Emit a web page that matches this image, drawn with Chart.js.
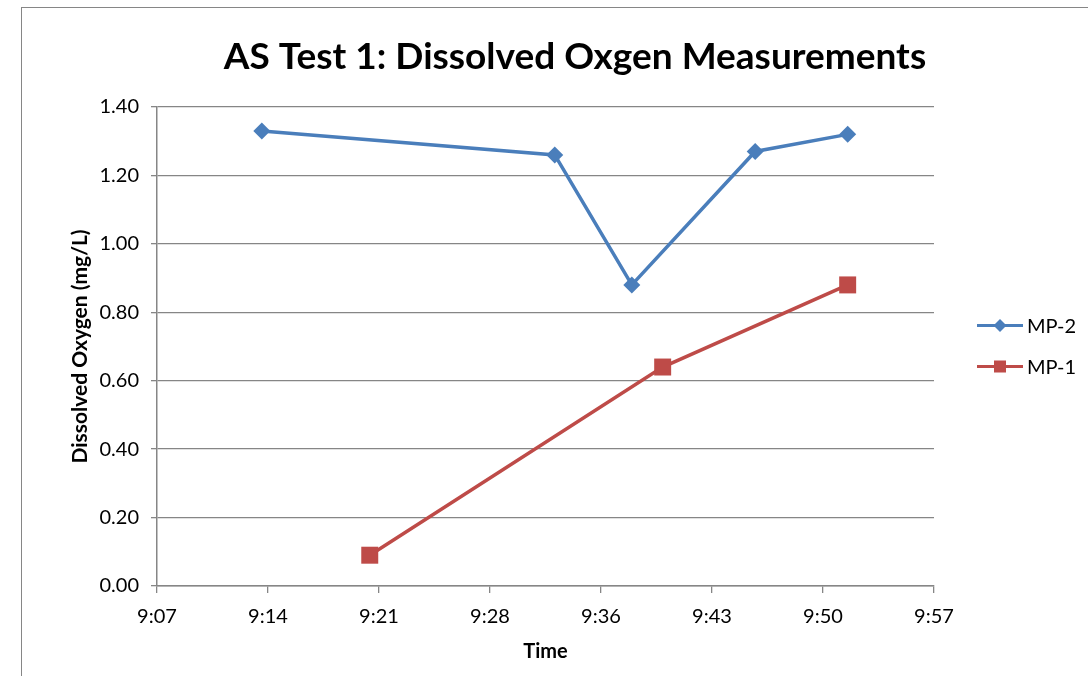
<!DOCTYPE html>
<html>
<head>
<meta charset="utf-8">
<script src="https://cdn.jsdelivr.net/npm/chart.js@4.4.1/dist/chart.umd.min.js"></script>
<style>
    html, body { margin: 0; padding: 0; background: #fff; overflow: hidden; width: 1088px; height: 676px; }
    #frame { position: absolute; left: 21px; top: 7px; width: 1106px; height: 700px; border: 1px solid #868686; }
    #chart { display: block; }
</style>
</head>
<body>
<div id="frame">
    <canvas id="chart" width="1106" height="668"></canvas>
</div>
<script>
// Data (times as h:mm, values in mg/L)
const mp2Times = ['9:14', '9:33', '9:38', '9:46', '9:52'];
const mp2Values = [1.33, 1.26, 0.88, 1.27, 1.32];
const mp1Times = ['9:21', '9:40', '9:52'];
const mp1Values = [0.09, 0.64, 0.88];

// Time axis: 9:07.2 to 9:57.6 every 7.2 minutes (minutes after midnight)
const timeAxisMin = 547.2;
const timeAxisMax = 597.6;
const timeAxisStep = 7.2;
const yTickValues = [0, 0.2, 0.4, 0.6, 0.8, 1.0, 1.2, 1.4];

const FONT = 'Lato, "Open Sans", sans-serif';
const GRID = '#868686';

function toMinutes(t) {
    const parts = t.split(':');
    return parseInt(parts[0]) * 60 + parseInt(parts[1]);
}

function formatTime(v) {
    const m = Math.floor(v + 1e-6);
    const h = Math.floor(m / 60);
    const mm = m % 60;
    return h + ':' + (mm < 10 ? '0' : '') + mm;
}

function toPoints(times, values) {
    return times.map((t, i) => ({ x: toMinutes(t), y: values[i] }));
}

// Excel style legend: short line with the marker on it
const lineLegend = {
    id: 'lineLegend',
    afterDraw(chart) {
        const ctx = chart.ctx;
        const area = chart.chartArea;
        const midY = (area.top + area.bottom) / 2;
        const x0 = area.right + 43;
        const x1 = area.right + 89;
        const cx = (x0 + x1) / 2;
        const rows = [1, 0]; // MP-2 first, then MP-1
        rows.forEach((di, row) => {
            const ds = chart.data.datasets[di];
            const y = midY - 21 + row * 41;
            ctx.save();
            ctx.strokeStyle = ds.borderColor;
            ctx.lineWidth = 3;
            ctx.beginPath();
            ctx.moveTo(x0, y);
            ctx.lineTo(x1, y);
            ctx.stroke();
            ctx.fillStyle = ds.backgroundColor;
            if (ds.pointStyle === 'rectRot') {
                ctx.beginPath();
                ctx.moveTo(cx, y - 6.5);
                ctx.lineTo(cx + 6.5, y);
                ctx.lineTo(cx, y + 6.5);
                ctx.lineTo(cx - 6.5, y);
                ctx.closePath();
                ctx.fill();
            } else {
                ctx.fillRect(cx - 6, y - 6, 12, 12);
            }
            ctx.fillStyle = '#000';
            ctx.font = '20px ' + FONT;
            ctx.textBaseline = 'middle';
            ctx.textAlign = 'left';
            ctx.fillText(ds.label, x1 + 4, y + 1);
            ctx.restore();
        });
    }
};

const ctx = document.getElementById('chart').getContext('2d');
new Chart(ctx, {
    type: 'line',
    data: {
        datasets: [
            {
                label: 'MP-1',
                data: toPoints(mp1Times, mp1Values),
                borderColor: '#BE4B48',
                backgroundColor: '#BE4B48',
                borderWidth: 3.5,
                pointStyle: 'rect',
                pointRadius: 12,
                pointBorderWidth: 0,
                pointHoverRadius: 12
            },
            {
                label: 'MP-2',
                data: toPoints(mp2Times, mp2Values),
                borderColor: '#4A7EBB',
                backgroundColor: '#4A7EBB',
                borderWidth: 3.5,
                pointStyle: 'rectRot',
                pointRadius: 8.5,
                pointBorderWidth: 0,
                pointHoverRadius: 8.5
            }
        ]
    },
    options: {
        responsive: false,
        animation: false,
        layout: {
            padding: { top: 0, left: 0, right: 0, bottom: 12.4 }
        },
        scales: {
            x: {
                type: 'linear',
                min: timeAxisMin,
                max: timeAxisMax,
                afterBuildTicks(scale) {
                    const ticks = [];
                    for (let i = 0; i <= 7; i++) ticks.push({ value: timeAxisMin + i * timeAxisStep });
                    scale.ticks = ticks;
                },
                afterFit(scale) {
                    scale.height = 77.6;
                },
                ticks: {
                    callback: (v) => formatTime(v),
                    font: { family: FONT, size: 20 },
                    color: '#000',
                    padding: 12,
                    maxRotation: 0,
                    autoSkip: false
                },
                grid: {
                    drawOnChartArea: false,
                    drawTicks: true,
                    tickLength: 7,
                    color: GRID,
                    lineWidth: 1.3
                },
                border: { color: GRID, width: 1.5 },
                title: {
                    display: true,
                    text: 'Time',
                    font: { family: FONT, size: 20, weight: 'bold' },
                    color: '#000',
                    padding: { top: 0, bottom: 0 }
                }
            },
            y: {
                min: 0,
                max: 1.4,
                afterBuildTicks(scale) {
                    scale.ticks = yTickValues.map(v => ({ value: v }));
                },
                afterFit(scale) {
                    scale.width = 135;
                },
                ticks: {
                    callback: (v) => v.toFixed(2),
                    font: { family: FONT, size: 20 },
                    color: '#000',
                    padding: 12
                },
                grid: {
                    color: GRID,
                    lineWidth: 1.3,
                    tickLength: 6
                },
                border: { color: GRID, width: 1.5 },
                title: {
                    display: true,
                    text: 'Dissolved Oxygen (mg/L)',
                    font: { family: FONT, size: 21, weight: 'bold' },
                    color: '#000',
                    padding: { top: 45.4, bottom: 0 }
                }
            },
            legendSpace: {
                type: 'linear',
                position: 'right',
                display: true,
                afterFit(scale) {
                    scale.width = 194;
                },
                ticks: { display: false },
                grid: { display: false },
                border: { display: false }
            }
        },
        plugins: {
            legend: { display: false },
            tooltip: { enabled: false },
            title: {
                display: true,
                text: 'AS Test 1: Dissolved Oxgen Measurements',
                font: { family: FONT, size: 37, weight: 'bold' },
                color: '#000',
                padding: { top: 26.8, bottom: 27.8 }
            }
        }
    },
    plugins: [lineLegend]
});
</script>
</body>
</html>
